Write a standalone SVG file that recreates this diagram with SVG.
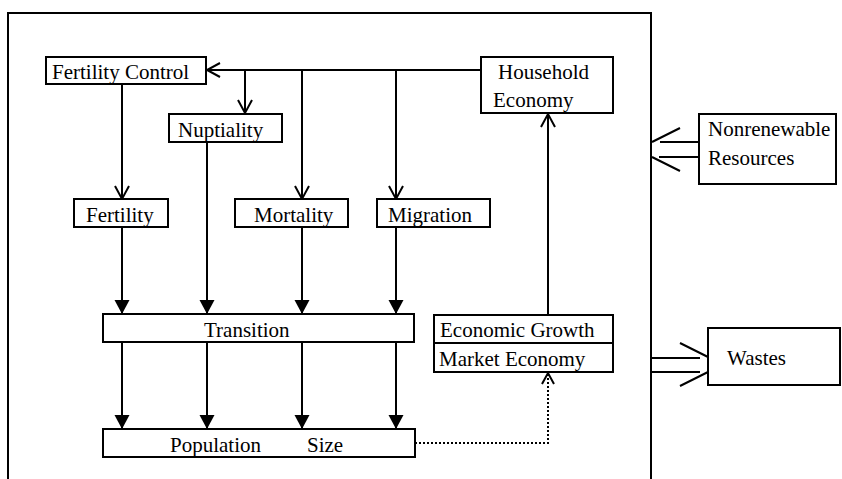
<svg xmlns="http://www.w3.org/2000/svg" width="842" height="479" viewBox="0 0 842 479">
<style>
.box{fill:#fff;stroke:#000;stroke-width:2}
.ln{fill:none;stroke:#000;stroke-width:2}
.dot{fill:none;stroke:#000;stroke-width:2;stroke-dasharray:2 2}
</style>
<defs>
<marker id="open" markerUnits="userSpaceOnUse" markerWidth="20" markerHeight="20" viewBox="-16 -10 20 20" refX="0" refY="0" orient="auto">
<path d="M-13,-7 L0,0 L-13,7" fill="none" stroke="#000" stroke-width="2"/>
</marker>
<marker id="opensm" markerUnits="userSpaceOnUse" markerWidth="20" markerHeight="20" viewBox="-16 -10 20 20" refX="0" refY="0" orient="auto">
<path d="M-11,-6 L0,0 L-11,6" fill="none" stroke="#000" stroke-width="2"/>
</marker>
<marker id="fill" markerUnits="userSpaceOnUse" markerWidth="20" markerHeight="20" viewBox="-16 -10 20 20" refX="0" refY="0" orient="auto">
<path d="M-14,-7.5 L0,0 L-14,7.5 Z" fill="#000"/>
</marker>
</defs>
<path id="frame" class="ln" d="M8,479 V13 H651 V479"/>
<g id="connectors">
<path class="ln" d="M481,70 H207" marker-end="url(#open)"/>
<path class="ln" d="M245,70 V113" marker-end="url(#open)"/>
<path class="ln" d="M302,70 V199" marker-end="url(#open)"/>
<path class="ln" d="M396,70 V199" marker-end="url(#open)"/>
<path class="ln" d="M122,84 V199" marker-end="url(#open)"/>
<path class="ln" d="M548,315 V114" marker-end="url(#open)"/>
<path class="ln" d="M122,227 V314" marker-end="url(#fill)"/>
<path class="ln" d="M207,142 V314" marker-end="url(#fill)"/>
<path class="ln" d="M302,227 V314" marker-end="url(#fill)"/>
<path class="ln" d="M396,227 V314" marker-end="url(#fill)"/>
<path class="ln" d="M122,342 V429" marker-end="url(#fill)"/>
<path class="ln" d="M207,342 V429" marker-end="url(#fill)"/>
<path class="ln" d="M302,342 V429" marker-end="url(#fill)"/>
<path class="ln" d="M396,342 V429" marker-end="url(#fill)"/>
<path class="dot" d="M415,443 H548 V373" marker-end="url(#opensm)"/>
<path class="ln" d="M699,142 H660 M699,157 H659 M680,128 L652,142 M652,157 L680,171"/>
<path class="ln" d="M652,358 H700 M652,372 H700 M680,343 L708,357 M708,372 L680,386"/>
</g>
<g font-family="'Liberation Serif', 'Times New Roman', serif" font-size="21" fill="#000">
<g id="fertility-control"><rect class="box" x="46" y="57" width="160" height="27"/><text x="52" y="79">Fertility Control</text></g>
<g id="nuptiality"><rect class="box" x="169" y="114" width="113" height="28"/><text x="178" y="137">Nuptiality</text></g>
<g id="fertility"><rect class="box" x="74" y="199" width="94" height="28"/><text x="86" y="222">Fertility</text></g>
<g id="mortality"><rect class="box" x="235" y="199" width="113" height="28"/><text x="254" y="222">Mortality</text></g>
<g id="migration"><rect class="box" x="377" y="199" width="113" height="28"/><text x="388" y="222">Migration</text></g>
<g id="household-economy"><rect class="box" x="481" y="57" width="132" height="56"/><text x="498" y="79">Household</text><text x="493" y="107">Economy</text></g>
<g id="transition"><rect class="box" x="103" y="314" width="311" height="28"/><text x="204" y="337">Transition</text></g>
<g id="population-size"><rect class="box" x="103" y="429" width="312" height="28"/><text y="452"><tspan x="170">Population</tspan><tspan x="307">Size</tspan></text></g>
<g id="economic-growth"><rect class="box" x="434" y="315" width="179" height="57"/><line class="ln" x1="434" y1="343" x2="613" y2="343"/><text x="440" y="337">Economic Growth</text><text x="439" y="366">Market Economy</text></g>
<g id="nonrenewable-resources"><rect class="box" x="699" y="114" width="137" height="70"/><text x="708" y="136">Nonrenewable</text><text x="708" y="165">Resources</text></g>
<g id="wastes"><rect class="box" x="708" y="328" width="132" height="57"/><text x="727" y="365">Wastes</text></g>
</g>
</svg>
